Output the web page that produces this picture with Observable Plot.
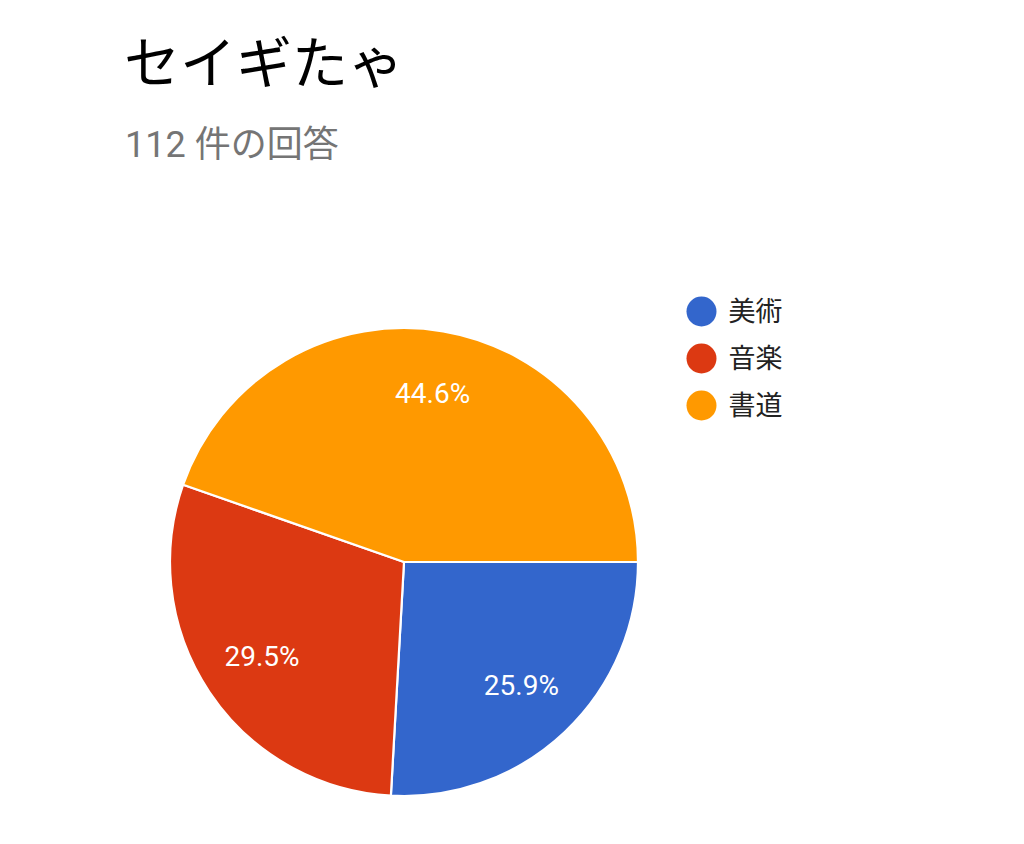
<!DOCTYPE html>
<html>
<head>
<meta charset="utf-8">
<script src="https://cdn.jsdelivr.net/npm/d3@7"></script>
<script src="https://cdn.jsdelivr.net/npm/@observablehq/plot@0.6"></script>
<style>
  html, body { margin: 0; padding: 0; background: #fff; }
  body { width: 1024px; height: 844px; position: relative; overflow: hidden;
         font-family: Roboto, "Noto Sans CJK JP", sans-serif; }
  #title { position: absolute; left: 124px; top: 31px; font-size: 56px; line-height: 66px; color: #000; white-space: nowrap; }
  #subtitle { position: absolute; left: 125px; top: 124px; font-size: 36px; line-height: 42px; color: #757575; white-space: nowrap; }
  #chart { position: absolute; left: 0; top: 200px; }
</style>
</head>
<body>
<div id="title">セイギたゃ</div>
<div id="subtitle">112 件の回答</div>
<div id="chart"></div>
<script>
// ---- data ----
const categories = ["美術", "音楽", "書道"];
const counts = [29, 33, 50];
const colors = ["#3366cc", "#dc3912", "#ff9900"];

const total = d3.sum(counts);
const rows = categories.map((c, i) => ({category: c, count: counts[i]}));

// pie drawn through the Plot color scale
function pieMark(index, scales, values, dimensions, context) {
  const cx = 404, cy = 362, r = 234;
  const pie = d3.pie().value(d => d.count).sort(null)
    .startAngle(Math.PI / 2).endAngle(Math.PI / 2 + 2 * Math.PI);
  const arcs = pie(rows);
  const arc = d3.arc().innerRadius(0).outerRadius(r);
  const labelArc = d3.arc().innerRadius(r * 0.73).outerRadius(r * 0.73);
  const g = d3.create("svg:g").attr("transform", `translate(${cx},${cy})`);
  g.selectAll("path").data(arcs).join("path")
    .attr("d", arc)
    .attr("fill", d => scales.color(d.data.category))
    .attr("stroke", "#fff")
    .attr("stroke-width", 2.2)
    .attr("stroke-linejoin", "round");
  g.selectAll("text").data(arcs).join("text")
    .attr("transform", d => `translate(${labelArc.centroid(d)})`)
    .attr("text-anchor", "middle")
    .attr("dy", "0.32em")
    .attr("fill", "#fff")
    .attr("font-size", 28)
    .attr("font-family", "Roboto, 'Noto Sans CJK JP', sans-serif")
    .text(d => d3.format(".1%")(d.data.count / total));
  return g.node();
}

const chart = Plot.plot({
  width: 1024,
  height: 644,
  margin: 0,
  style: {fontFamily: "Roboto, 'Noto Sans CJK JP', sans-serif", background: "#fff"},
  color: {domain: categories, range: colors},
  y: {type: "point", domain: categories, range: [110, 205], padding: 0, axis: null},
  marks: [
    pieMark,
    Plot.dot(categories, {y: d => d, frameAnchor: "left", dx: 701, r: 15, fill: d => d, stroke: null}),
    Plot.text(categories, {y: d => d, frameAnchor: "left", dx: 728, text: d => d, textAnchor: "start",
      fontSize: 27, fill: "#222", dy: 1})
  ]
});
document.getElementById("chart").appendChild(chart);
</script>
</body>
</html>
